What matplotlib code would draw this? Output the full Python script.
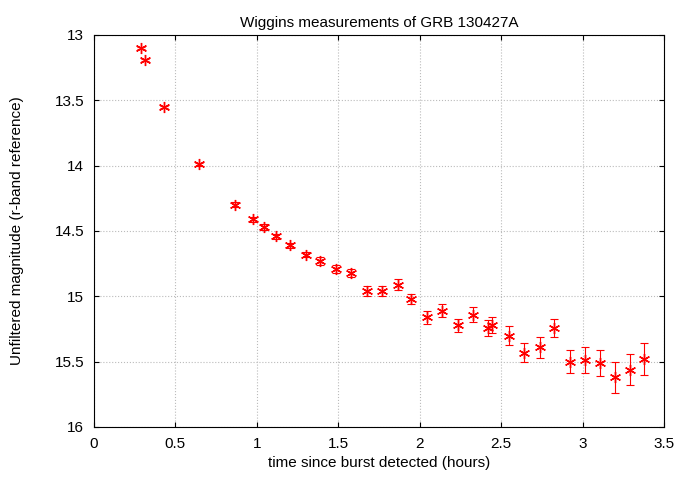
import matplotlib
matplotlib.use("Agg")
import matplotlib.pyplot as plt

plt.rcParams['font.family'] = ['Liberation Sans', 'DejaVu Sans']

t_hours = [0.289, 0.313, 0.43, 0.645, 0.866, 0.976, 1.044, 1.117, 1.203, 1.30, 1.39, 1.486,
           1.578, 1.676, 1.768, 1.866, 1.946, 2.044, 2.136, 2.234, 2.326, 2.419, 2.443,
           2.548, 2.64, 2.738, 2.824, 2.92, 3.014, 3.106, 3.198, 3.29, 3.38]
mag = [13.10, 13.19, 13.55, 13.99, 14.30, 14.41, 14.47, 14.54, 14.61, 14.68, 14.73, 14.79,
       14.82, 14.96, 14.96, 14.91, 15.02, 15.16, 15.11, 15.22, 15.14, 15.24, 15.22,
       15.30, 15.43, 15.39, 15.24, 15.50, 15.49, 15.51, 15.62, 15.56, 15.48]
err = [0.01, 0.01, 0.01, 0.01, 0.02, 0.02, 0.02, 0.02, 0.02, 0.02, 0.03, 0.03,
       0.03, 0.04, 0.04, 0.04, 0.04, 0.05, 0.05, 0.05, 0.06, 0.06, 0.06,
       0.07, 0.07, 0.08, 0.07, 0.09, 0.10, 0.10, 0.12, 0.12, 0.12]

fig = plt.figure(figsize=(6.79, 4.83), dpi=100)
ax = fig.add_axes([94/679, 1-427/483, 570/679, 392/483])
ax.errorbar(t_hours, mag, yerr=err, fmt='none', ecolor='red', elinewidth=0.8, capsize=3, capthick=0.8)
ax.plot(t_hours, mag, linestyle='none', marker=(6, 2, 0), color='red', markersize=8, markeredgewidth=1.0)
ax.set_xlim(0, 3.5)
ax.set_ylim(16, 13)
ax.set_xticks([0, 0.5, 1, 1.5, 2, 2.5, 3, 3.5])
ax.set_xticklabels(['0', '0.5', '1', '1.5', '2', '2.5', '3', '3.5'])
ax.set_yticks([13, 13.5, 14, 14.5, 15, 15.5, 16])
ax.set_yticklabels(['13', '13.5', '14', '14.5', '15', '15.5', '16'])
ax.grid(True, color='#bbbbbb', linestyle=':', linewidth=0.8)
ax.tick_params(direction='in', top=True, right=True, labelsize=11, pad=7)
ax.set_xlabel('time since burst detected (hours)', fontsize=11)
ax.set_ylabel('Unfiltered magnitude (r-band reference)', fontsize=11, labelpad=22)
ax.set_title('Wiggins measurements of GRB 130427A', fontsize=11)
fig.savefig('out.png', dpi=100)
